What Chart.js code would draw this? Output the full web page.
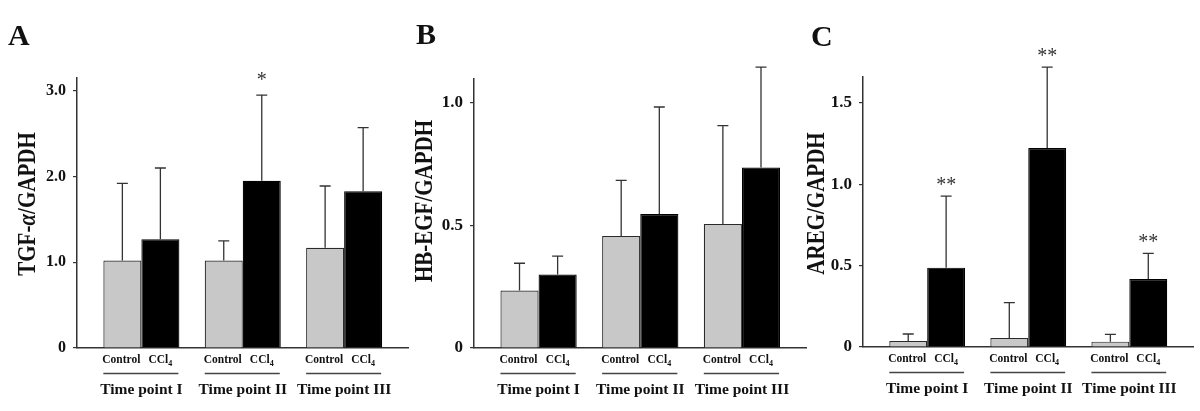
<!DOCTYPE html>
<html>
<head>
<meta charset="utf-8">
<script src="https://cdn.jsdelivr.net/npm/chart.js@4.4.0/dist/chart.umd.min.js"></script>
<style>
  html, body { margin:0; padding:0; background:#fff; }
  #wrap { position:relative; width:1200px; height:411px; overflow:hidden; }
  canvas { position:absolute; top:0; }
</style>
</head>
<body>
<div id="wrap">
  <canvas id="chartA" width="410" height="411" style="left:0"></canvas>
  <canvas id="chartB" width="410" height="411" style="left:400px"></canvas>
  <canvas id="chartC" width="400" height="411" style="left:800px"></canvas>
</div>
<script>
"use strict";
const groups      = ['Time point I', 'Time point II', 'Time point III'];
const seriesNames = ['Control', 'CCl4'];
const groupX      = [0, 1, 2];

// A: TGF-alpha
const aControl    = [1.02, 1.02, 1.17];
const aControlSD  = [0.90, 0.23, 0.72];
const aCCl4       = [1.27, 1.95, 1.83];
const aCCl4SD     = [0.83, 1.00, 0.74];
const aSig        = ['', '*', ''];
const aTicks      = [0, 1, 2, 3];
const aTickLabels = ['0', '1.0', '2.0', '3.0'];

// B: HB-EGF
const bControl    = [0.234, 0.456, 0.505];
const bControlSD  = [0.111, 0.226, 0.400];
const bCCl4       = [0.299, 0.545, 0.735];
const bCCl4SD     = [0.075, 0.436, 0.408];
const bSig        = ['', '', ''];
const bTicks      = [0, 0.5, 1];
const bTickLabels = ['0', '0.5', '1.0'];

// C: AREG
const cControl    = [0.037, 0.055, 0.033];
const cControlSD  = [0.043, 0.218, 0.045];
const cCCl4       = [0.488, 1.223, 0.418];
const cCCl4SD     = [0.440, 0.498, 0.158];
const cSig        = ['**', '**', '**'];
const cTicks      = [0, 0.5, 1, 1.5];
const cTickLabels = ['0', '0.5', '1.0', '1.5'];

const FONT = "'Liberation Serif', 'Times New Roman', serif";
const INK  = '#111';
const LINE = '#333';

function drawRotatedTitle(ctx, text, cx, cy, size) {
  const greek = /[\u03b1-\u03c9]/;
  const parts = text.split(/([\u03b1-\u03c9])/).filter(Boolean);
  const fontFor = s => (greek.test(s) ? 'italic bold ' : 'bold ') + size + 'px ' + FONT;
  let total = 0;
  const widths = parts.map(s => { ctx.font = fontFor(s); const w = ctx.measureText(s).width; total += w; return w; });
  ctx.save();
  ctx.translate(cx, cy);
  ctx.rotate(-Math.PI / 2);
  ctx.scale(1, 1.18); // glyphs in the figure are a little wider than plain Times
  ctx.textAlign = 'left'; ctx.textBaseline = 'alphabetic'; ctx.fillStyle = INK;
  let x = -total / 2;
  parts.forEach((s, i) => { ctx.font = fontFor(s); ctx.fillText(s, x, size * 0.33); x += widths[i]; });
  ctx.restore();
}

function drawSeriesLabel(ctx, text, cx, cy, size) {
  const m = text.match(/^(.*?)(\d+)$/);
  const base = m ? m[1] : text, sub = m ? m[2] : '';
  const subSize = size * 0.7;
  ctx.font = `bold ${size}px ${FONT}`;
  const wb = ctx.measureText(base).width;
  ctx.font = `bold ${subSize}px ${FONT}`;
  const ws = sub ? ctx.measureText(sub).width : 0;
  const x = cx - (wb + ws) / 2;
  const baseY = cy + size * 0.33;
  ctx.textAlign = 'left'; ctx.textBaseline = 'alphabetic'; ctx.fillStyle = INK;
  ctx.font = `bold ${size}px ${FONT}`;
  ctx.fillText(base, x, baseY);
  if (sub) {
    ctx.font = `bold ${subSize}px ${FONT}`;
    ctx.fillText(sub, x + wb, baseY + size * 0.22);
  }
}

function drawCentered(ctx, text, cx, cy, font, color) {
  ctx.font = font;
  const mt = ctx.measureText(text);
  ctx.textAlign = 'left'; ctx.textBaseline = 'alphabetic'; ctx.fillStyle = color;
  const w = mt.actualBoundingBoxRight + mt.actualBoundingBoxLeft;
  const y = cy + (mt.actualBoundingBoxAscent - mt.actualBoundingBoxDescent) / 2;
  ctx.fillText(text, cx - w / 2 + mt.actualBoundingBoxLeft, y);
}

function panelPlugin(p) {
  return {
    id: 'panel' + p.letter,
    afterDatasetsDraw(chart) {
      const { ctx, scales: { y } } = chart;
      const means = [p.control, p.ccl4], sds = [p.controlSD, p.ccl4SD];
      ctx.save();
      ctx.strokeStyle = LINE; ctx.lineWidth = 1.3;
      [0, 1].forEach(d => {
        chart.getDatasetMeta(d).data.forEach((bar, i) => {
          const top = y.getPixelForValue(means[d][i] + sds[d][i]);
          ctx.beginPath();
          ctx.moveTo(bar.x, bar.y); ctx.lineTo(bar.x, top);
          ctx.moveTo(bar.x - 5.5, top); ctx.lineTo(bar.x + 5.5, top);
          ctx.stroke();
          if (d === 1 && p.sig[i]) drawCentered(ctx, p.sig[i], bar.x, top - p.sigGap, `20px ${FONT}`, '#333');
        });
      });
      ctx.restore();
    },
    afterDraw(chart) {
      const { ctx, chartArea: ca } = chart;
      ctx.save();
      // panel letter
      ctx.font = `bold 30px ${FONT}`; ctx.fillStyle = INK;
      ctx.textAlign = 'left'; ctx.textBaseline = 'alphabetic';
      ctx.fillText(p.letter, p.letterX, p.letterY);
      // y title
      drawRotatedTitle(ctx, p.title, p.titleX, p.titleY, 21);
      // group labels
      const m0 = chart.getDatasetMeta(0).data, m1 = chart.getDatasetMeta(1).data;
      groups.forEach((g, i) => {
        const c = m0[i], k = m1[i];
        const left = c.x - c.width / 2, right = k.x + k.width / 2;
        drawSeriesLabel(ctx, seriesNames[0], c.x - 1, ca.bottom + 11.7, 11.5);
        drawSeriesLabel(ctx, seriesNames[1], k.x, ca.bottom + 11.7, 11.5);
        ctx.strokeStyle = '#444'; ctx.lineWidth = 1.5;
        ctx.beginPath(); ctx.moveTo(left, ca.bottom + 25.5); ctx.lineTo(right - 1, ca.bottom + 25.5); ctx.stroke();
        ctx.font = `bold 15.5px ${FONT}`; ctx.fillStyle = INK;
        ctx.textAlign = 'center'; ctx.textBaseline = 'alphabetic';
        ctx.fillText(g, (left + right) / 2, ca.bottom + 46);
      });
      ctx.restore();
    }
  };
}

function makeChart(id, p) {
  return new Chart(document.getElementById(id), {
    type: 'bar',
    data: {
      datasets: [
        { label: seriesNames[0], data: groupX.map((x, i) => ({ x, y: p.control[i] })),
          backgroundColor: '#c8c8c8', borderColor: '#2a2a2a', borderWidth: 1.2,
          categoryPercentage: 0.75, barPercentage: 1 },
        { label: seriesNames[1], data: groupX.map((x, i) => ({ x, y: p.ccl4[i] })),
          backgroundColor: '#000', borderColor: '#000', borderWidth: 1.2,
          categoryPercentage: 0.75, barPercentage: 1 }
      ]
    },
    options: {
      responsive: false,
      animation: false,
      layout: { padding: { top: p.top, right: p.right, bottom: 0, left: 0 } },
      plugins: { legend: { display: false }, tooltip: { enabled: false } },
      scales: {
        x: {
          type: 'linear', min: -0.635, max: 2.63, offset: false,
          afterBuildTicks(s) { s.ticks = groupX.map(v => ({ value: v })); },
          ticks: { display: false },
          grid: { display: false },
          border: { display: true, color: LINE, width: 1.5 },
          afterFit(s) { s.height = p.bottom; }
        },
        y: {
          min: 0, max: p.max,
          afterFit(s) { s.width = p.axisX; },
          afterBuildTicks(s) { s.ticks = p.ticks.map(v => ({ value: v })); },
          ticks: {
            callback: (v, i) => p.tickLabels[i],
            color: INK, padding: 7,
            font: { family: FONT, size: p.tickSize, weight: 'bold' }
          },
          grid: { display: true, drawOnChartArea: false, drawTicks: true, tickLength: 4, color: LINE, lineWidth: 1.2 },
          border: { display: true, color: LINE, width: 1.5 }
        }
      }
    },
    plugins: [panelPlugin(p)]
  });
}

makeChart('chartA', {
  letter: 'A', letterX: 8, letterY: 45, title: 'TGF-\u03b1/GAPDH', titleX: 27, titleY: 204,
  control: aControl, controlSD: aControlSD, ccl4: aCCl4, ccl4SD: aCCl4SD, sig: aSig, sigGap: 19,
  ticks: aTicks, tickLabels: aTickLabels, max: 3.15, tickSize: 16,
  top: 78, right: 2, bottom: 63, axisX: 77
});
makeChart('chartB', {
  letter: 'B', letterX: 16, letterY: 44, title: 'HB-EGF/GAPDH', titleX: 24, titleY: 201,
  control: bControl, controlSD: bControlSD, ccl4: bCCl4, ccl4SD: bCCl4SD, sig: bSig, sigGap: 16,
  ticks: bTicks, tickLabels: bTickLabels, max: 1.095, tickSize: 17,
  top: 79, right: 4, bottom: 63, axisX: 74
});
makeChart('chartC', {
  letter: 'C', letterX: 11, letterY: 45.5, title: 'AREG/GAPDH', titleX: 15.5, titleY: 203.5,
  control: cControl, controlSD: cControlSD, ccl4: cCCl4, ccl4SD: cCCl4SD, sig: cSig, sigGap: 15.5,
  ticks: cTicks, tickLabels: cTickLabels, max: 1.66, tickSize: 17,
  top: 77, right: 7, bottom: 64, axisX: 63
});
</script>
</body>
</html>
